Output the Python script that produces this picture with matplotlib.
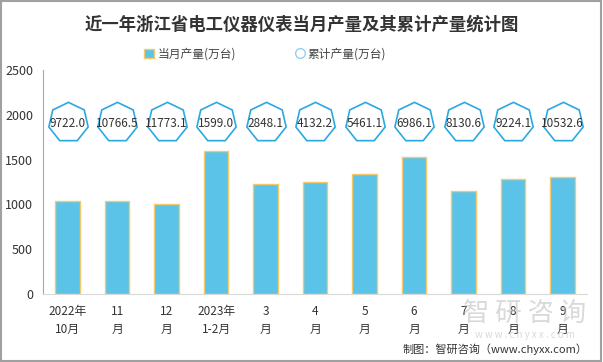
import numpy as np
import matplotlib.pyplot as plt
from matplotlib.lines import Line2D

plt.rcParams['font.family'] = ['Noto Sans CJK SC', 'DejaVu Sans']

# 数据
months = ['2022年\n10月', '11\n月', '12\n月', '2023年\n1-2月', '3\n月', '4\n月',
          '5\n月', '6\n月', '7\n月', '8\n月', '9\n月']
monthly = [1040, 1040, 1004, 1599, 1230, 1250, 1335, 1525, 1145, 1285, 1308]
cumulative = [9722.0, 10766.5, 11773.1, 1599.0, 2848.1, 4132.2, 5461.1,
              6986.1, 8130.6, 9224.1, 10532.6]
marker_level = 1920

fig = plt.figure(figsize=(6.03, 3.62), dpi=100)
ax = fig.add_axes([0.071, 0.188, 0.903, 0.618])

x = np.arange(len(months))
bars = ax.bar(x, monthly, width=0.49, color='#5BC3E8', edgecolor='#F5C96A', linewidth=1,
              label='当月产量(万台)', zorder=2)
ax.plot(x, [marker_level] * len(x), linestyle='none', marker=(7, 0, 0), markersize=29,
        markerfacecolor='none', markeredgecolor='#29A9E1', markeredgewidth=1.2, zorder=3)
for xi, v in zip(x, cumulative):
    ax.text(xi, marker_level - 20, f'{v:.1f}', ha='center', va='center', fontsize=8.5,
            color='#333333', zorder=4)

ax.set_ylim(0, 2500)
ax.set_xlim(-0.5, len(x) - 0.5)
ax.set_yticks(range(0, 2501, 500))
ax.set_xticks(x)
ax.set_xticklabels(months, fontsize=8.5, color='#333333', linespacing=1.5)
ax.tick_params(axis='y', labelsize=9, colors='#333333', length=0, pad=7)
ax.tick_params(axis='x', length=0, pad=8)
for s in ['top', 'right']:
    ax.spines[s].set_visible(False)
ax.spines['left'].set_color('#A6A6A6')
ax.spines['bottom'].set_color('#D9D9D9')

cum_handle = Line2D([], [], linestyle='none', marker='o', markersize=7,
                    markerfacecolor='none', markeredgecolor='#8FD3F0', markeredgewidth=1)
leg = fig.legend([bars, cum_handle], ['当月产量(万台)', '累计产量(万台)'], loc='center',
                 bbox_to_anchor=(0.44, 0.85), ncol=2, frameon=False, fontsize=8.5,
                 handlelength=0.8, handleheight=0.8, columnspacing=5, handletextpad=0.3)
for t in leg.get_texts():
    t.set_color('#444444')

fig.text(0.5, 0.932, '近一年浙江省电工仪器仪表当月产量及其累计产量统计图', ha='center', va='center',
         fontsize=12.5, fontweight='bold', color='#333333')

# 水印
fig.text(0.87, 0.133, '智 研 咨 询', ha='center', va='center', fontsize=19, color='#BBBBBB',
         alpha=0.55, zorder=0)
fig.text(0.87, 0.075, 'w w w . c h y x x . c o m', ha='center', va='center', fontsize=7,
         color='#BBBBBB', alpha=0.55)
fig.text(0.975, 0.036, '制图：智研咨询（www.chyxx.com）', ha='right', va='center',
         fontsize=8, color='#333333')

fig.add_artist(plt.Rectangle((0.002, 0.003), 0.995, 0.994, transform=fig.transFigure,
                             fill=False, edgecolor='#A0A0A0', linewidth=1.5))

fig.savefig('out.png', dpi=100)
